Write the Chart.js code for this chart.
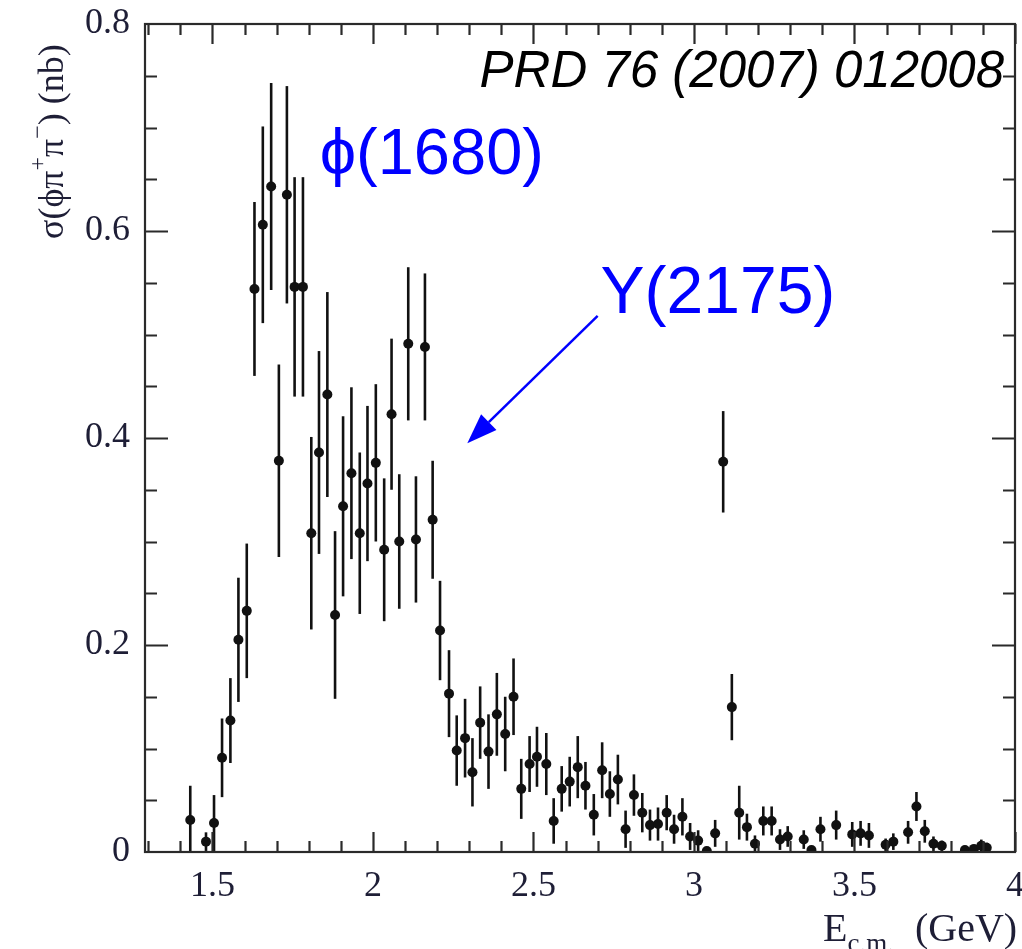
<!DOCTYPE html>
<html>
<head>
<meta charset="utf-8">
<script src="https://cdn.jsdelivr.net/npm/chart.js@4.4.0/dist/chart.umd.min.js"></script>
<style>
  html, body { margin: 0; padding: 0; background: #fff; }
  #wrap { width: 1022px; height: 949px; }
</style>
</head>
<body>
<div id="wrap"><canvas id="xsChart" width="1022" height="949"></canvas></div>
<script>
// E_cm (GeV), cross section (nb) and its error
const energy = [
  1.431, 1.480, 1.505, 1.530, 1.556, 1.581, 1.607, 1.631, 1.657, 1.683,
  1.707, 1.732, 1.756, 1.782, 1.808, 1.832, 1.858, 1.882, 1.907, 1.933,
  1.959, 1.983, 2.009, 2.035, 2.058, 2.082, 2.110, 2.134, 2.162, 2.186,
  2.209, 2.237, 2.261, 2.287, 2.310, 2.334, 2.360, 2.386, 2.412, 2.438,
  2.462, 2.488, 2.511, 2.540, 2.563, 2.588, 2.613, 2.638, 2.662, 2.688,
  2.714, 2.738, 2.763, 2.787, 2.813, 2.839, 2.863, 2.888, 2.915, 2.938,
  2.964, 2.988, 3.013, 3.040, 3.066, 3.091, 3.118, 3.141, 3.165, 3.190,
  3.216, 3.242, 3.268, 3.292, 3.342, 3.366, 3.394, 3.443, 3.493, 3.519,
  3.545, 3.597, 3.621, 3.667, 3.693, 3.719, 3.746, 3.772, 3.844, 3.872,
  3.895, 3.912
];
const sigma = [
  0.031, 0.010, 0.028, 0.091, 0.127, 0.205, 0.233, 0.544, 0.606, 0.643,
  0.378, 0.635, 0.546, 0.546, 0.308, 0.386, 0.442, 0.229, 0.334, 0.366,
  0.308, 0.356, 0.376, 0.292, 0.423, 0.300, 0.491, 0.302, 0.488, 0.321,
  0.214, 0.153, 0.098, 0.110, 0.077, 0.125, 0.097, 0.133, 0.114, 0.150,
  0.061, 0.085, 0.092, 0.085, 0.030, 0.061, 0.068, 0.082, 0.064, 0.036,
  0.079, 0.056, 0.070, 0.022, 0.055, 0.038, 0.026, 0.027, 0.038, 0.022,
  0.034, 0.015, 0.011, 0.001, 0.018, 0.377, 0.140, 0.038, 0.024, 0.008,
  0.030, 0.030, 0.012, 0.015, 0.012, 0.002, 0.022, 0.026, 0.017, 0.018,
  0.016, 0.007, 0.010, 0.019, 0.044, 0.020, 0.008, 0.006, 0.002, 0.003,
  0.006, 0.004
];
const sigmaErr = [
  0.033, 0.009, 0.027, 0.038, 0.041, 0.060, 0.065, 0.084, 0.095, 0.100,
  0.093, 0.105, 0.106, 0.106, 0.093, 0.098, 0.099, 0.081, 0.087, 0.083,
  0.078, 0.075, 0.076, 0.069, 0.073, 0.065, 0.074, 0.061, 0.071, 0.057,
  0.048, 0.042, 0.034, 0.038, 0.033, 0.035, 0.036, 0.040, 0.036, 0.037,
  0.029, 0.027, 0.029, 0.030, 0.022, 0.022, 0.024, 0.030, 0.023, 0.020,
  0.027, 0.022, 0.024, 0.018, 0.020, 0.019, 0.015, 0.016, 0.017, 0.014,
  0.018, 0.013, 0.010, 0.003, 0.013, 0.049, 0.032, 0.026, 0.013, 0.008,
  0.014, 0.014, 0.010, 0.010, 0.009, 0.003, 0.012, 0.014, 0.012, 0.012,
  0.012, 0.006, 0.008, 0.011, 0.014, 0.011, 0.007, 0.005, 0.002, 0.003,
  0.006, 0.005
];

const xTicks = [1.5, 2, 2.5, 3, 3.5, 4];
const yTicks = [0, 0.2, 0.4, 0.6, 0.8];

// annotation anchors in data units
const refLabel = { text: 'PRD 76 (2007) 012008', x: 3.966, y: 0.739 };
const phiLabel = { text: '\u03D5(1680)', x: 1.834, y: 0.655 };
const yLabel = { text: 'Y(2175)', x: 2.709, y: 0.521 };
const arrowFrom = { x: 2.700, y: 0.518 };
const arrowTo = { x: 2.294, y: 0.395 };

const INK = '#111';
const AXIS_INK = '#2a2a2a';
const LABEL_INK = '#1e1e36';
const BLUE = '#0000ff';
const TICK_FONT = '36px "Liberation Serif", serif';

const errorBars = {
  id: 'errorBars',
  beforeDatasetsDraw(chart) {
    const { ctx, chartArea, scales: { x, y } } = chart;
    ctx.save();
    ctx.beginPath();
    ctx.rect(chartArea.left, chartArea.top, chartArea.right - chartArea.left, chartArea.bottom - chartArea.top);
    ctx.clip();
    ctx.strokeStyle = INK;
    ctx.lineWidth = 2.6;
    energy.forEach((e, i) => {
      const px = x.getPixelForValue(e);
      const top = y.getPixelForValue(sigma[i] + sigmaErr[i]);
      const bot = y.getPixelForValue(Math.max(sigma[i] - sigmaErr[i], 0));
      ctx.beginPath();
      ctx.moveTo(px, top);
      ctx.lineTo(px, bot);
      ctx.stroke();
    });
    ctx.restore();
  }
};

const frameAndTicks = {
  id: 'frameAndTicks',
  afterDraw(chart) {
    const { ctx, chartArea: a, scales: { x, y } } = chart;
    ctx.save();
    ctx.strokeStyle = AXIS_INK;
    ctx.lineWidth = 2.2;
    ctx.strokeRect(a.left, a.top, a.right - a.left, a.bottom - a.top);

    // x ticks every 0.1, long every 0.5, on bottom and top, pointing in
    for (let k = 13; k <= 40; k++) {
      const px = Math.round(x.getPixelForValue(k / 10)) + 0.5;
      const len = k % 5 === 0 ? 20 : 11;
      ctx.beginPath();
      ctx.moveTo(px, a.bottom); ctx.lineTo(px, a.bottom - len);
      ctx.moveTo(px, a.top); ctx.lineTo(px, a.top + len);
      ctx.stroke();
    }
    // y ticks every 0.05, long every 0.2, on left and right
    for (let k = 1; k < 16; k++) {
      const py = Math.round(y.getPixelForValue(k / 20)) + 0.5;
      const len = k % 4 === 0 ? 23 : 12;
      ctx.beginPath();
      ctx.moveTo(a.left, py); ctx.lineTo(a.left + len, py);
      ctx.moveTo(a.right, py); ctx.lineTo(a.right - len, py);
      ctx.stroke();
    }

    // x tick labels
    ctx.fillStyle = LABEL_INK;
    ctx.font = TICK_FONT;
    ctx.textAlign = 'center';
    ctx.textBaseline = 'middle';
    xTicks.forEach(v => ctx.fillText(String(v), x.getPixelForValue(v), a.bottom + 35));

    // y axis title, rotated
    ctx.textBaseline = 'alphabetic';
    ctx.textAlign = 'left';
    ctx.translate(63, 239);
    ctx.rotate(-Math.PI / 2);
    const main = '36px "Liberation Serif", serif';
    const sup = '24px "Liberation Serif", serif';
    const parts = [
      ['\u03C3(\u03D5\u03C0', main, 0],
      ['+', sup, -18],
      ['\u03C0', main, 0],
      ['\u2212', sup, -18],
      [') (nb)', main, 0]
    ];
    let cx = 0;
    parts.forEach(([t, f, dy]) => {
      ctx.font = f;
      ctx.fillText(t, cx, dy);
      cx += ctx.measureText(t).width;
    });
    ctx.restore();

    // x axis title with subscript
    ctx.save();
    ctx.fillStyle = LABEL_INK;
    ctx.textBaseline = 'alphabetic';
    ctx.textAlign = 'left';
    let tx = 823;
    const base = 941;
    ctx.font = '40px "Liberation Serif", serif';
    ctx.fillText('E', tx, base);
    tx += ctx.measureText('E').width;
    ctx.font = '27px "Liberation Serif", serif';
    ctx.fillText('c.m.', tx, base + 11);
    tx += ctx.measureText('c.m.').width + 21;
    ctx.font = '40px "Liberation Serif", serif';
    ctx.fillText('(GeV)', tx, base);
    ctx.restore();

    // annotations
    ctx.save();
    ctx.textBaseline = 'alphabetic';
    ctx.fillStyle = '#000';
    ctx.font = 'italic 51px "Liberation Sans", Arial, sans-serif';
    ctx.textAlign = 'right';
    ctx.fillText(refLabel.text, x.getPixelForValue(refLabel.x), y.getPixelForValue(refLabel.y));

    ctx.fillStyle = BLUE;
    ctx.textAlign = 'left';
    ctx.font = '65px "Liberation Sans", "DejaVu Sans", sans-serif';
    ctx.fillText(phiLabel.text, x.getPixelForValue(phiLabel.x), y.getPixelForValue(phiLabel.y));
    ctx.font = '66px "Liberation Sans", "DejaVu Sans", sans-serif';
    ctx.fillText(yLabel.text, x.getPixelForValue(yLabel.x), y.getPixelForValue(yLabel.y));

    const x0 = x.getPixelForValue(arrowFrom.x), y0 = y.getPixelForValue(arrowFrom.y);
    const x1 = x.getPixelForValue(arrowTo.x), y1 = y.getPixelForValue(arrowTo.y);
    const ang = Math.atan2(y1 - y0, x1 - x0);
    const headLen = 30, headHalf = 11;
    const bx = x1 - headLen * Math.cos(ang), by = y1 - headLen * Math.sin(ang);
    ctx.strokeStyle = BLUE;
    ctx.lineWidth = 2.5;
    ctx.beginPath();
    ctx.moveTo(x0, y0);
    ctx.lineTo(bx, by);
    ctx.stroke();
    ctx.beginPath();
    ctx.moveTo(x1, y1);
    ctx.lineTo(bx + headHalf * Math.sin(ang), by - headHalf * Math.cos(ang));
    ctx.lineTo(bx - headHalf * Math.sin(ang), by + headHalf * Math.cos(ang));
    ctx.closePath();
    ctx.fill();
    ctx.restore();
  }
};

const points = energy.map((e, i) => ({ x: e, y: sigma[i] }));

new Chart(document.getElementById('xsChart').getContext('2d'), {
  type: 'scatter',
  data: {
    datasets: [{
      label: 'sigma',
      data: points,
      pointRadius: 5,
      pointBackgroundColor: INK,
      pointBorderWidth: 0
    }]
  },
  options: {
    responsive: false,
    animation: false,
    devicePixelRatio: 1,
    layout: { padding: { top: 24, right: 7, left: 0, bottom: 0 } },
    plugins: {
      legend: { display: false },
      tooltip: { enabled: false }
    },
    scales: {
      x: {
        type: 'linear',
        min: 1.29,
        max: 4.0,
        grid: { display: false },
        border: { display: false },
        afterBuildTicks: s => { s.ticks = xTicks.map(v => ({ value: v })); },
        afterFit: s => { s.height = 97; s.paddingLeft = 0; s.paddingRight = 0; },
        ticks: { display: false }
      },
      y: {
        min: 0,
        max: 0.8,
        grid: { display: false },
        border: { display: false },
        afterBuildTicks: s => { s.ticks = yTicks.map(v => ({ value: v })); },
        afterFit: s => { s.width = 145; s.paddingTop = 0; s.paddingBottom = 0; },
        ticks: {
          font: { family: '"Liberation Serif", serif', size: 36 },
          color: LABEL_INK,
          padding: 7,
          callback: v => (v === 0 ? '0' : v.toFixed(1))
        }
      }
    }
  },
  plugins: [errorBars, frameAndTicks]
});
</script>
</body>
</html>
